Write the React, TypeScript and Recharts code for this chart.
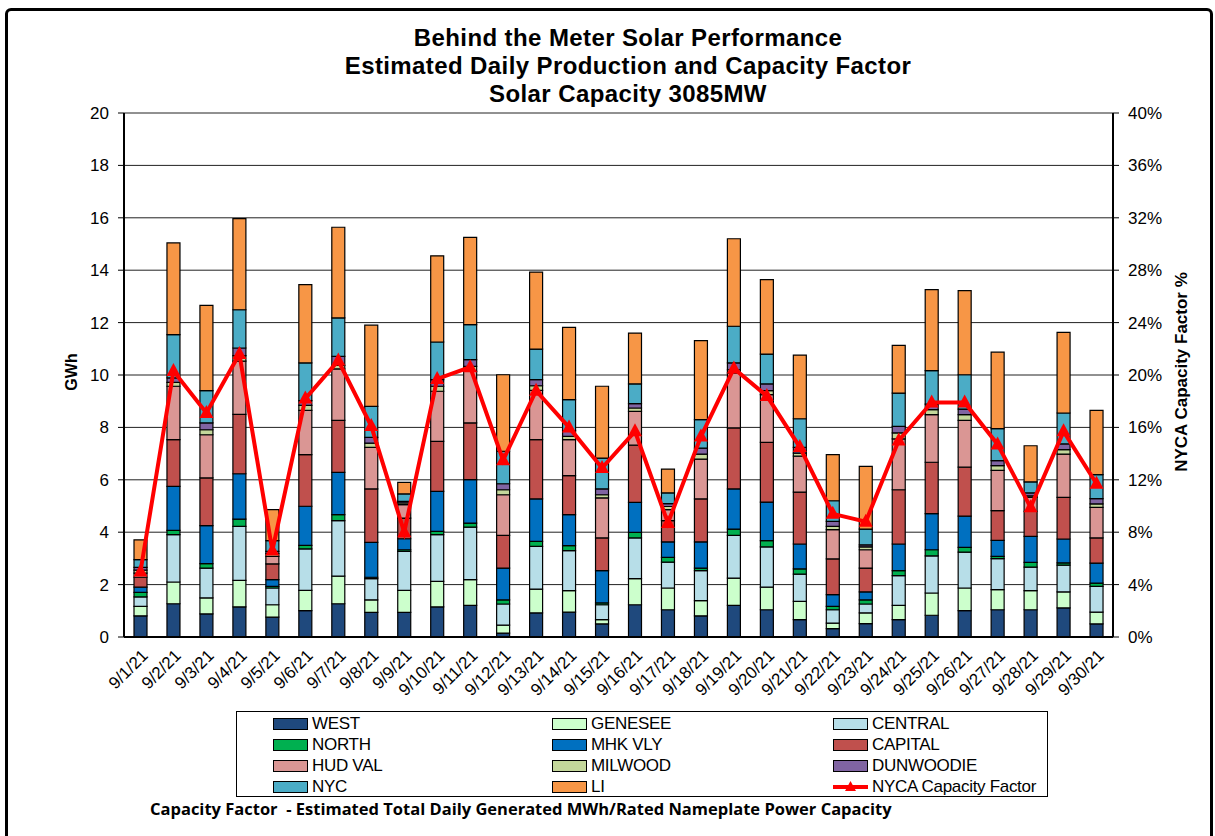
import {
  ComposedChart,
  Bar,
  Line,
  XAxis,
  YAxis,
  CartesianGrid
} from 'recharts';

const days = [
  '9/1/21', '9/2/21', '9/3/21', '9/4/21', '9/5/21', '9/6/21', '9/7/21', '9/8/21', '9/9/21', '9/10/21',
  '9/11/21', '9/12/21', '9/13/21', '9/14/21', '9/15/21', '9/16/21', '9/17/21', '9/18/21', '9/19/21', '9/20/21',
  '9/21/21', '9/22/21', '9/23/21', '9/24/21', '9/25/21', '9/26/21', '9/27/21', '9/28/21', '9/29/21', '9/30/21'
];

// GWh per zone
const west = [0.81, 1.27, 0.88, 1.15, 0.76, 1.01, 1.27, 0.94, 0.94, 1.15, 1.21, 0.15, 0.92, 0.95, 0.50, 1.23, 1.04, 0.81, 1.21, 1.04, 0.66, 0.32, 0.51, 0.66, 0.83, 1.01, 1.04, 1.04, 1.11, 0.50];
const genesee = [0.36, 0.83, 0.61, 1.01, 0.47, 0.77, 1.05, 0.48, 0.84, 0.97, 0.98, 0.30, 0.91, 0.82, 0.16, 1.00, 0.83, 0.58, 1.04, 0.86, 0.70, 0.21, 0.41, 0.55, 0.85, 0.86, 0.77, 0.73, 0.61, 0.45];
const central = [0.36, 1.81, 1.14, 2.06, 0.64, 1.58, 2.12, 0.81, 1.49, 1.79, 2.00, 0.81, 1.63, 1.53, 0.57, 1.55, 0.99, 1.14, 1.63, 1.54, 1.04, 0.51, 0.34, 1.13, 1.42, 1.37, 1.18, 0.90, 1.02, 0.98];
const north = [0.17, 0.16, 0.17, 0.28, 0.06, 0.14, 0.23, 0.05, 0.06, 0.12, 0.16, 0.16, 0.19, 0.19, 0.07, 0.21, 0.18, 0.10, 0.24, 0.24, 0.20, 0.13, 0.16, 0.19, 0.23, 0.18, 0.09, 0.18, 0.09, 0.13];
const mhkVly = [0.20, 1.68, 1.45, 1.73, 0.26, 1.49, 1.61, 1.33, 0.42, 1.53, 1.66, 1.21, 1.62, 1.18, 1.23, 1.15, 0.59, 1.00, 1.53, 1.47, 0.95, 0.45, 0.30, 1.02, 1.38, 1.19, 0.61, 0.99, 0.91, 0.76];
const capital = [0.38, 1.78, 1.82, 2.27, 0.60, 1.97, 1.99, 2.04, 0.79, 1.91, 2.16, 1.25, 2.26, 1.49, 1.25, 2.18, 0.81, 1.64, 2.33, 2.28, 1.98, 1.36, 0.91, 2.07, 1.96, 1.87, 1.13, 0.96, 1.59, 0.96];
const hudVal = [0.16, 2.04, 1.65, 2.03, 0.29, 1.69, 1.96, 1.59, 0.51, 1.91, 1.97, 1.55, 1.88, 1.37, 1.53, 1.29, 0.42, 1.52, 2.10, 1.82, 1.37, 1.12, 0.70, 1.94, 1.82, 1.79, 1.54, 0.53, 1.65, 1.17];
const milwood = [0.11, 0.15, 0.19, 0.21, 0.10, 0.19, 0.14, 0.16, 0.07, 0.19, 0.19, 0.19, 0.18, 0.13, 0.12, 0.13, 0.12, 0.19, 0.12, 0.15, 0.12, 0.12, 0.11, 0.23, 0.19, 0.22, 0.18, 0.06, 0.17, 0.13];
const dunwoodie = [0.11, 0.17, 0.26, 0.29, 0.09, 0.18, 0.34, 0.22, 0.06, 0.25, 0.26, 0.23, 0.23, 0.22, 0.22, 0.17, 0.11, 0.23, 0.26, 0.26, 0.22, 0.19, 0.08, 0.25, 0.21, 0.21, 0.19, 0.11, 0.22, 0.20];
const nyc = [0.29, 1.65, 1.23, 1.46, 0.41, 1.44, 1.47, 1.18, 0.28, 1.44, 1.33, 1.24, 1.17, 1.18, 1.18, 0.75, 0.41, 1.09, 1.40, 1.14, 1.09, 0.79, 0.60, 1.27, 1.28, 1.31, 1.22, 0.42, 1.18, 0.92];
const li = [0.76, 3.50, 3.26, 3.48, 1.18, 2.99, 3.46, 3.10, 0.44, 3.29, 3.33, 2.92, 2.94, 2.76, 2.74, 1.94, 0.91, 3.01, 3.34, 2.84, 2.43, 1.76, 2.39, 1.82, 3.09, 3.21, 2.92, 1.38, 3.08, 2.45];

// NYCA capacity factor, %
const capFactor = [5.0, 20.3, 17.1, 21.6, 6.6, 18.2, 21.1, 16.1, 8.0, 19.7, 20.6, 13.5, 18.8, 16.0, 12.9, 15.7, 8.7, 15.3, 20.5, 18.4, 14.5, 9.4, 8.8, 15.0, 17.9, 17.9, 14.7, 9.9, 15.7, 11.7];

const gwhTicks = [0, 2, 4, 6, 8, 10, 12, 14, 16, 18, 20];
const pctTicks = [0, 4, 8, 12, 16, 20, 24, 28, 32, 36, 40];
const dayEdges = Array.from({ length: days.length + 1 }, (_, i) => i);

const zones = [
  { key: 'WEST', values: west, color: '#1F497D' },
  { key: 'GENESEE', values: genesee, color: '#CCFFCC' },
  { key: 'CENTRAL', values: central, color: '#B7DEE8' },
  { key: 'NORTH', values: north, color: '#00B050' },
  { key: 'MHK VLY', values: mhkVly, color: '#0070C0' },
  { key: 'CAPITAL', values: capital, color: '#C0504D' },
  { key: 'HUD VAL', values: hudVal, color: '#DA9694' },
  { key: 'MILWOOD', values: milwood, color: '#C4D79B' },
  { key: 'DUNWOODIE', values: dunwoodie, color: '#8064A2' },
  { key: 'NYC', values: nyc, color: '#4BACC6' },
  { key: 'LI', values: li, color: '#F79646' }
];

const data = days.map((day, i) => {
  const row: Record<string, any> = { day, cf: capFactor[i] };
  zones.forEach((z) => { row[z.key] = z.values[i]; });
  return row;
});

// legend order is row by row, three columns
const legendItems = [
  'WEST', 'GENESEE', 'CENTRAL',
  'NORTH', 'MHK VLY', 'CAPITAL',
  'HUD VAL', 'MILWOOD', 'DUNWOODIE',
  'NYC', 'LI', 'NYCA Capacity Factor'
];

const FONT = '"Liberation Sans", Arial, sans-serif';

function Triangle(props: any) {
  const { cx, cy } = props;
  if (cx == null || cy == null) return null;
  return (
    <polygon
      points={`${cx},${cy - 8} ${cx - 7},${cy + 5} ${cx + 7},${cy + 5}`}
      fill="#FF0000"
    />
  );
}

function LegendBox() {
  const colorOf = (name: string) => zones.find((z) => z.key === name)?.color;
  return (
    <div
      style={{
        position: 'absolute',
        left: 236,
        top: 711,
        width: 812,
        height: 86,
        border: '1px solid #000',
        boxSizing: 'border-box',
        display: 'grid',
        gridTemplateColumns: '279px 281px 250px',
        gridAutoRows: '21px',
        paddingTop: 1,
        paddingLeft: 36,
        fontSize: 17,
        color: '#000'
      }}
    >
      {legendItems.map((name) => (
        <div key={name} style={{ display: 'flex', alignItems: 'center', height: 21 }}>
          {colorOf(name) ? (
            <span
              style={{
                display: 'inline-block',
                width: 35,
                height: 12,
                background: colorOf(name),
                border: '1.5px solid #000',
                boxSizing: 'border-box',
                marginRight: 4
              }}
            />
          ) : (
            <svg width={39} height={14}>
              <line x1={0} y1={7} x2={35} y2={7} stroke="#FF0000" strokeWidth={4} />
              <polygon points="17.5,1 12,11 23,11" fill="#FF0000" />
            </svg>
          )}
          <span style={{ letterSpacing: -0.3 }}>{name}</span>
        </div>
      ))}
    </div>
  );
}

export default function App() {
  return (
    <div
      style={{
        position: 'absolute',
        left: 0,
        top: 0,
        width: 1215,
        height: 836,
        overflow: 'hidden',
        background: '#fff',
        fontFamily: FONT
      }}
    >
      <div
        style={{
          position: 'absolute',
          left: 5,
          top: 8,
          width: 1208,
          height: 860,
          border: '3px solid #000',
          borderRadius: 6,
          boxSizing: 'border-box'
        }}
      />
      <div
        style={{
          position: 'absolute',
          left: 0,
          top: 24,
          width: 1256,
          textAlign: 'center',
          fontWeight: 'bold',
          fontSize: 24,
          letterSpacing: 0.4,
          lineHeight: '28px',
          color: '#000'
        }}
      >
        <div>Behind the Meter Solar Performance</div>
        <div>Estimated Daily Production and Capacity Factor</div>
        <div>Solar Capacity 3085MW</div>
      </div>

      <ComposedChart
        width={1215}
        height={836}
        data={data}
        margin={{ top: 113, right: 42, left: 64, bottom: 138 }}
        barSize={13}
        style={{ position: 'absolute', left: 0, top: 0 }}
      >
        <CartesianGrid
          yAxisId="left"
          vertical={false}
          stroke="#222"
          strokeWidth={1}
        />
        <XAxis
          xAxisId={0}
          type="number"
          dataKey="edge"
          domain={[0, days.length]}
          ticks={dayEdges}
          allowDataOverflow
          height={1}
          tick={false}
          tickSize={6}
          axisLine={{ stroke: '#000', strokeWidth: 2 }}
          tickLine={{ stroke: '#000' }}
        />
        <XAxis
          xAxisId="cat"
          dataKey="day"
          height={60}
          interval={0}
          axisLine={false}
          tickLine={false}
          tickSize={6}
          tickMargin={4}
          angle={-45}
          tick={{ fill: '#000', fontSize: 17, textAnchor: 'end' }}
        />
        <YAxis
          yAxisId="left"
          width={60}
          domain={[0, 20]}
          ticks={gwhTicks}
          interval={0}
          tickSize={6}
          tickMargin={9}
          axisLine={{ stroke: '#000', strokeWidth: 2 }}
          tickLine={{ stroke: '#000' }}
          tick={{ fill: '#000', fontSize: 17 }}
        />
        <YAxis
          yAxisId="right"
          orientation="right"
          width={60}
          domain={[0, 40]}
          ticks={pctTicks}
          interval={0}
          tickSize={6}
          tickMargin={9}
          tickFormatter={(v) => `${v}%`}
          axisLine={{ stroke: '#000', strokeWidth: 2 }}
          tickLine={{ stroke: '#000' }}
          tick={{ fill: '#000', fontSize: 17, textAnchor: 'start' }}
        />
        {zones.map((z) => (
          <Bar
            key={z.key}
            xAxisId="cat"
            yAxisId="left"
            dataKey={z.key}
            stackId="gwh"
            fill={z.color}
            stroke="#000"
            strokeWidth={1.2}
            isAnimationActive={false}
          />
        ))}
        <Line
          xAxisId="cat"
          yAxisId="right"
          dataKey="cf"
          type="linear"
          stroke="#FF0000"
          strokeWidth={4}
          dot={<Triangle />}
          activeDot={false}
          isAnimationActive={false}
        />
      </ComposedChart>

      <div
        style={{
          position: 'absolute',
          left: 72,
          top: 372,
          transform: 'translate(-50%, -50%) rotate(-90deg)',
          fontWeight: 'bold',
          fontSize: 16,
          whiteSpace: 'nowrap'
        }}
      >
        GWh
      </div>
      <div
        style={{
          position: 'absolute',
          left: 1182,
          top: 372,
          transform: 'translate(-50%, -50%) rotate(-90deg)',
          fontWeight: 'bold',
          fontSize: 17,
          whiteSpace: 'nowrap'
        }}
      >
        NYCA Capacity Factor %
      </div>

      <LegendBox />

      <div
        style={{
          position: 'absolute',
          left: 150,
          top: 798,
          fontFamily: '"Open Sans", "Liberation Sans", sans-serif',
          fontWeight: 'bold',
          fontSize: 16.5,
          lineHeight: '22px',
          whiteSpace: 'nowrap'
        }}
      >
        Capacity Factor&nbsp; - Estimated Total Daily Generated MWh/Rated Nameplate Power Capacity
      </div>
    </div>
  );
}
